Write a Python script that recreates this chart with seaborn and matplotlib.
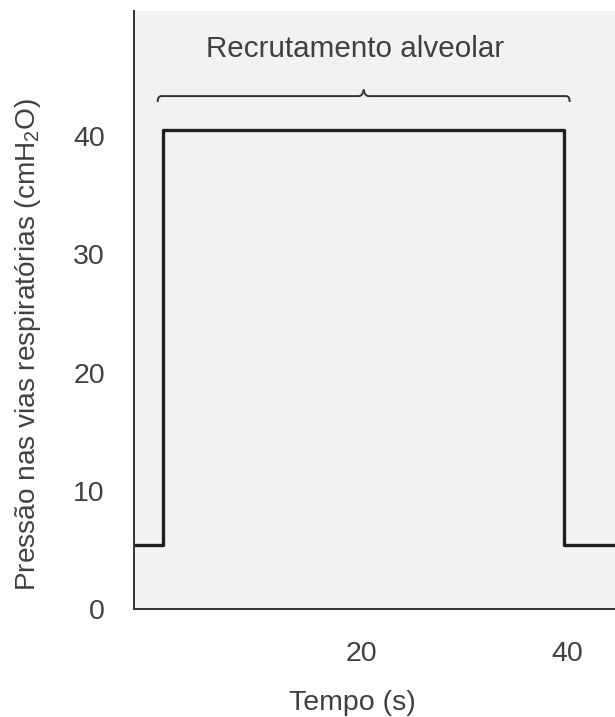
import matplotlib
matplotlib.use("Agg")
import matplotlib.pyplot as plt
from matplotlib.path import Path
from matplotlib.patches import PathPatch
import seaborn as sns
import pandas as pd

# Airway pressure during an alveolar recruitment manoeuvre
time_s = [-2.1, 0.7, 39.6, 44.6]
pressure_cmh2o = [5.4, 40.5, 5.4, 5.4]
x_ticks = [20, 40]
y_ticks = [0, 10, 20, 30, 40]
brace_label = "Recrutamento alveolar"
x_label = "Tempo (s)"
y_label = r"Pressão nas vias respiratórias (cmH$_2$O)"

df = pd.DataFrame({"t": time_s, "p": pressure_cmh2o})

ink = "#404040"
sns.set_theme(style="white", rc={
    "axes.facecolor": "#f2f2f2",
    "figure.facecolor": "white",
    "axes.edgecolor": "#333333",
    "axes.linewidth": 1.4,
    "xtick.color": ink,
    "ytick.color": ink,
    "text.color": ink,
    "axes.labelcolor": ink,
})
plt.rcParams["font.family"] = ["Liberation Sans", "DejaVu Sans"]
plt.rcParams["mathtext.fontset"] = "custom"
plt.rcParams["mathtext.rm"] = "Liberation Sans"
plt.rcParams["mathtext.it"] = "Liberation Sans:italic"

fig = plt.figure(figsize=(6.15, 7.17), dpi=100)
ax = fig.add_axes([134 / 615, 108 / 717, 1 - 134 / 615, (609 - 11) / 717])

sns.lineplot(data=df, x="t", y="p", drawstyle="steps-post", color="#1f1f1f",
             linewidth=2.4, ax=ax, sort=True)

ax.set_xlim(time_s[0], time_s[-1])
ax.set_ylim(0, 50.6)
ax.set_xticks(x_ticks)
ax.set_yticks(y_ticks)
ax.tick_params(axis="both", length=0, labelsize=20.5)
ax.tick_params(axis="x", pad=23)
ax.tick_params(axis="y", pad=21)
ax.set_xlabel(x_label, fontsize=20.5, labelpad=16)
ax.set_ylabel(y_label, fontsize=20.2, labelpad=22)
ax.xaxis.set_label_coords(0.455, -0.135)
ax.yaxis.set_label_coords(-0.19, 0.442)
sns.despine(ax=ax, top=True, right=True)

# Curly brace spanning the recruitment plateau
b0, b1 = time_s[1] - 0.5, time_s[2] + 0.6
yb, hook, tip = 43.4, 0.5, 0.55
mid = (b0 + b1) / 2
verts = [
    (b0, yb - hook), (b0, yb), (b0 + 0.35, yb),
    (mid - 0.5, yb),
    (mid - 0.1, yb), (mid, yb + tip - 0.1), (mid, yb + tip),
    (mid, yb + tip - 0.1), (mid + 0.1, yb), (mid + 0.5, yb),
    (b1 - 0.35, yb),
    (b1, yb), (b1, yb - hook),
]
codes = [Path.MOVETO, Path.CURVE3, Path.CURVE3,
         Path.LINETO,
         Path.CURVE4, Path.CURVE4, Path.CURVE4,
         Path.CURVE4, Path.CURVE4, Path.CURVE4,
         Path.LINETO,
         Path.CURVE3, Path.CURVE3]
ax.add_patch(PathPatch(Path(verts, codes), facecolor="none", edgecolor="#333333",
                       linewidth=1.4, clip_on=False))
ax.text(mid - 0.8, 47.4, brace_label, ha="center", va="center", fontsize=21.3)

fig.savefig("out.png", dpi=100)
